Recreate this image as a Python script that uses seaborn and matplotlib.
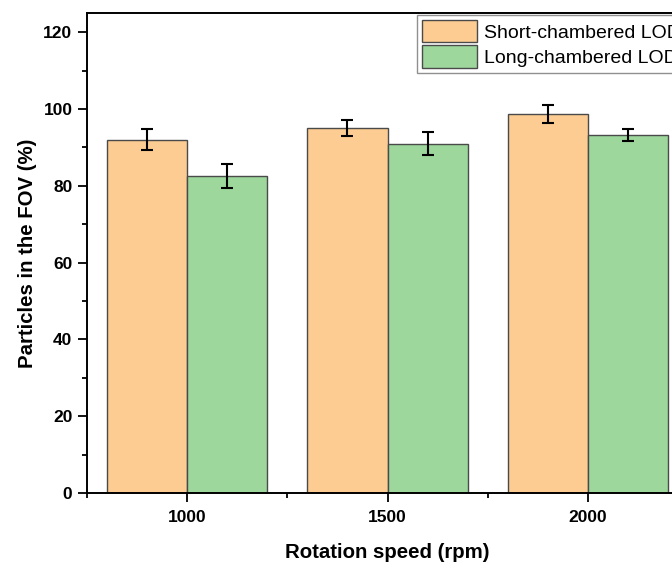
import pandas as pd
import numpy as np
import matplotlib
matplotlib.use("Agg")
import matplotlib.pyplot as plt
import seaborn as sns
from matplotlib.ticker import MultipleLocator, FixedLocator

speeds = [1000, 1500, 2000]
groups = ['Short-chambered LOD', 'Long-chambered LOD']
short_mean = [92.0, 95.0, 98.7]
short_err = [2.7, 2.1, 2.4]
long_mean = [82.6, 91.0, 93.2]
long_err = [3.2, 3.1, 1.6]

colors = ['#FDCC92', '#9DD79C']

df = pd.DataFrame({
    'speed': speeds + speeds,
    'value': short_mean + long_mean,
    'group': [groups[0]] * 3 + [groups[1]] * 3,
})
errs = [short_err, long_err]

sns.set_style('ticks')
plt.rcParams['font.family'] = ['Liberation Sans', 'DejaVu Sans']
for k in ['text.color', 'axes.labelcolor', 'xtick.color', 'ytick.color']:
    plt.rcParams[k] = 'black'

fig = plt.figure(figsize=(6.72, 5.63), dpi=100)
# axes run past the right edge, like the cropped original
ax = fig.add_axes([87 / 672, 1 - 493 / 563, 601 / 672, 480 / 563])

sns.barplot(data=df, x='speed', y='value', hue='group', hue_order=groups,
            palette=colors, native_scale=True, errorbar=None,
            edgecolor='#4a4a4a', linewidth=1, saturation=1, ax=ax)

for cont, e in zip(ax.containers, errs):
    xs = [b.get_x() + b.get_width() / 2 for b in cont]
    ys = [b.get_height() for b in cont]
    ax.errorbar(xs, ys, yerr=e, fmt='none', ecolor='black',
                elinewidth=1.5, capsize=4, capthick=1.5)

ax.set_xlim(750, 2250)
ax.set_ylim(0, 125)
ax.xaxis.set_major_locator(FixedLocator(speeds))
ax.xaxis.set_minor_locator(MultipleLocator(250))
ax.yaxis.set_major_locator(MultipleLocator(20))
ax.yaxis.set_minor_locator(MultipleLocator(10))
ax.tick_params(which='major', length=6.5, width=1.3, direction='out')
ax.tick_params(axis='x', which='major', pad=6)
ax.tick_params(axis='y', which='major', pad=4)
ax.tick_params(which='minor', length=3.5, width=1.3, direction='out')
for lab in ax.get_xticklabels() + ax.get_yticklabels():
    lab.set_fontsize(12.5)
    lab.set_fontweight('bold')

for s in ax.spines.values():
    s.set_visible(True)
    s.set_linewidth(1.4)
    s.set_color('black')

ax.set_xlabel('Rotation speed (rpm)', fontsize=14.7, fontweight='bold', labelpad=13)
ax.set_ylabel('Particles in the FOV (%)', fontsize=14.7, fontweight='bold', labelpad=4.5)

ax.legend(loc='upper right', bbox_to_anchor=(1, 1), fontsize=14, frameon=True,
          fancybox=False, edgecolor='#909090', framealpha=1,
          handlelength=2.8, handleheight=1.4, labelspacing=0.15,
          borderpad=0.25, borderaxespad=0.1, handletextpad=0.4)

plt.savefig('out.png', dpi=100)
